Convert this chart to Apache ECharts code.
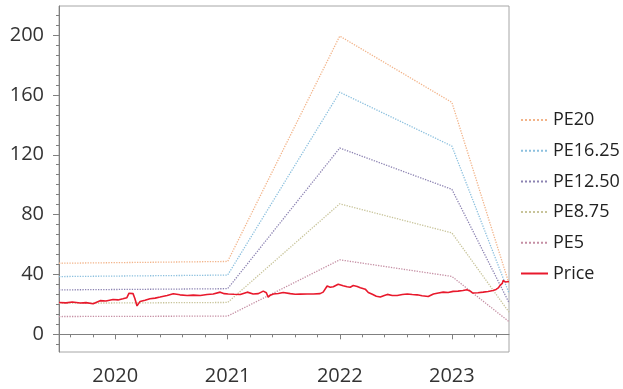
<!DOCTYPE html>
<html><head><meta charset="utf-8">
<script src="https://cdn.jsdelivr.net/npm/echarts@6/dist/echarts.min.js"></script>
<style>html,body{margin:0;padding:0;background:#fff}#c{width:623px;height:389px}</style>
</head><body><div id="c"></div>
<script>
// ---- data ----
const bandDates = ['2019-07-02', '2021-01-01', '2022-01-01', '2023-01-01', '2023-07-06'];
const pe20   = [47.5, 48.7, 199.3, 155.0, 34.0];
const pe1625 = [38.6, 39.6, 161.8, 125.8, 27.5];
const pe1250 = [29.7, 30.5, 124.5, 96.9, 21.2];
const pe875  = [20.8, 21.3, 87.2, 67.8, 14.8];
const pe5    = [11.9, 12.2, 49.8, 38.7, 8.5];

const priceDates = ['2019-07-02','2019-07-25','2019-08-14','2019-09-09','2019-09-28','2019-10-21','2019-11-13','2019-12-02','2019-12-25',
'2020-01-10','2020-01-26','2020-02-08','2020-02-15','2020-02-21','2020-02-28','2020-03-05','2020-03-12','2020-03-15','2020-03-22',
'2020-04-07','2020-04-23','2020-05-10','2020-05-26','2020-06-18','2020-07-08','2020-07-30','2020-08-22','2020-09-11','2020-10-04',
'2020-10-26','2020-11-15','2020-12-08','2020-12-21','2021-01-03','2021-01-22','2021-02-11','2021-03-06','2021-03-25','2021-04-11',
'2021-04-27','2021-05-07','2021-05-13','2021-05-20','2021-05-30','2021-06-15','2021-07-01','2021-07-24','2021-08-09','2021-08-25',
'2021-09-17','2021-10-07','2021-10-29','2021-11-08','2021-11-21','2021-12-01','2021-12-11','2021-12-27','2022-01-12','2022-01-25',
'2022-02-04','2022-02-14','2022-02-27','2022-03-09','2022-03-25','2022-04-04','2022-04-17','2022-04-30','2022-05-13','2022-05-26',
'2022-06-05','2022-06-21','2022-07-07','2022-07-24','2022-08-09','2022-08-25','2022-09-10','2022-09-26','2022-10-16','2022-11-02',
'2022-11-18','2022-12-04','2022-12-20','2023-01-05','2023-01-21','2023-02-06','2023-02-19','2023-03-01','2023-03-10','2023-03-27',
'2023-04-13','2023-04-29','2023-05-15','2023-05-25','2023-06-01','2023-06-07','2023-06-14','2023-06-17','2023-06-24','2023-06-30','2023-07-06'];
const priceValues = [21.3,21.0,21.6,20.9,21.2,20.4,22.5,22.3,23.3,
23.0,23.8,24.5,27.5,27.8,27.2,24.0,19.0,18.7,22.0,
22.8,23.8,24.2,24.9,26.0,27.1,26.4,26.0,26.2,26.0,
26.6,27.0,28.2,27.2,27.0,26.8,26.6,28.2,27.0,27.2,
28.9,27.8,24.9,26.2,27.0,27.3,28.0,27.2,26.8,26.9,
27.0,27.0,27.2,28.2,32.3,31.5,31.8,33.5,32.5,31.8,
31.5,32.6,32.0,31.2,30.2,28.0,26.8,25.5,25.0,26.0,
26.7,26.0,26.0,26.6,27.0,26.6,26.4,25.8,25.3,27.0,
27.6,28.2,28.0,28.7,28.9,29.3,29.8,29.0,27.6,27.8,
28.2,28.6,29.3,30.0,31.0,32.7,34.0,36.0,35.0,35.6,35.3];

const yTicks = [0, 40, 80, 120, 160, 200];
const xTickYears = [2020, 2021, 2022, 2023];

// ---- build ----
const P = s => +echarts.time.parse(s);
const xMin = P('2019-07-02'), xMax = P('2023-07-06');
const yMin = -11.8, yMax = 219.4;
const yMinor = [];
for (let k = -1; k <= 32; k++) { const v = k * 40 / 6; if (v > yMin && v < yMax) yMinor.push(v); }
const xMajor = xTickYears.map(y => P(y + '-01-01'));
const xMinor = [];
const DAY = 86400000;
for (let y = 2019; y <= 2023; y++) for (let k = 0; k < 5; k++) {
  const t = P(y + '-01-01') + k * 0.2 * 365.25 * DAY;
  if (t > xMin && t < xMax) xMinor.push(t);
}
const pair = (d, v) => d.map((x, i) => [P(x), v[i]]);
const axisCol = '#808080';
const FONT = 'Open Sans';

function band(name, vals, color) {
  return { name, type: 'line', data: pair(bandDates, vals), symbol: 'none', silent: true,
    lineStyle: { color, width: 1.3, type: 'dotted' }, itemStyle: { color }, z: 2 };
}

const chart = echarts.init(document.getElementById('c'), null, { renderer: 'canvas' });
chart.setOption({
  animation: false,
  backgroundColor: '#fff',
  grid: { left: 59, top: 6, right: 114, bottom: 37, show: true, borderColor: '#a6a6a6', borderWidth: 1 },
  legend: {
    orient: 'vertical', left: 515, top: 106, itemWidth: 27, itemHeight: 14, itemGap: 12.7,
    itemStyle: { opacity: 0 },
    textStyle: { fontFamily: FONT, fontSize: 18, color: '#222' },
    data: ['PE20', 'PE16.25', 'PE12.50', 'PE8.75', 'PE5', 'Price']
  },
  xAxis: [
    { type: 'value', min: xMin, max: xMax, position: 'bottom',
      axisLine: { show: true, lineStyle: { color: axisCol } },
      axisTick: { show: true, length: 5, customValues: xMajor, lineStyle: { color: axisCol } },
      axisLabel: { customValues: xMajor, formatter: v => String(new Date(v).getFullYear()), margin: 14,
        fontFamily: FONT, fontSize: 20, color: '#333' },
      splitLine: { show: false } },
    { type: 'value', min: xMin, max: xMax, position: 'bottom',
      axisLine: { show: false },
      axisTick: { show: true, length: 3, customValues: xMinor, lineStyle: { color: axisCol } },
      axisLabel: { show: false }, splitLine: { show: false } }
  ],
  yAxis: [
    { type: 'value', min: yMin, max: yMax, position: 'left',
      axisLine: { show: true, lineStyle: { color: axisCol } },
      axisTick: { show: true, length: 6, customValues: yTicks, lineStyle: { color: axisCol } },
      axisLabel: { customValues: yTicks, margin: 15, fontFamily: FONT, fontSize: 20, color: '#333' },
      splitLine: { show: false } },
    { type: 'value', min: yMin, max: yMax, position: 'left',
      axisLine: { show: false },
      axisTick: { show: true, length: 3, customValues: yMinor, lineStyle: { color: axisCol } },
      axisLabel: { show: false }, splitLine: { show: false } }
  ],
  series: [
    band('PE20', pe20, '#f2b48a'),
    band('PE16.25', pe1625, '#8cc0de'),
    band('PE12.50', pe1250, '#8c83b2'),
    band('PE8.75', pe875, '#c8c49a'),
    band('PE5', pe5, '#c58fa4'),
    { name: 'Price', type: 'line', data: pair(priceDates, priceValues), symbol: 'none', silent: true,
      lineStyle: { color: '#e8192c', width: 1.6 }, itemStyle: { color: '#e8192c' }, z: 5 }
  ]
});
</script></body></html>
